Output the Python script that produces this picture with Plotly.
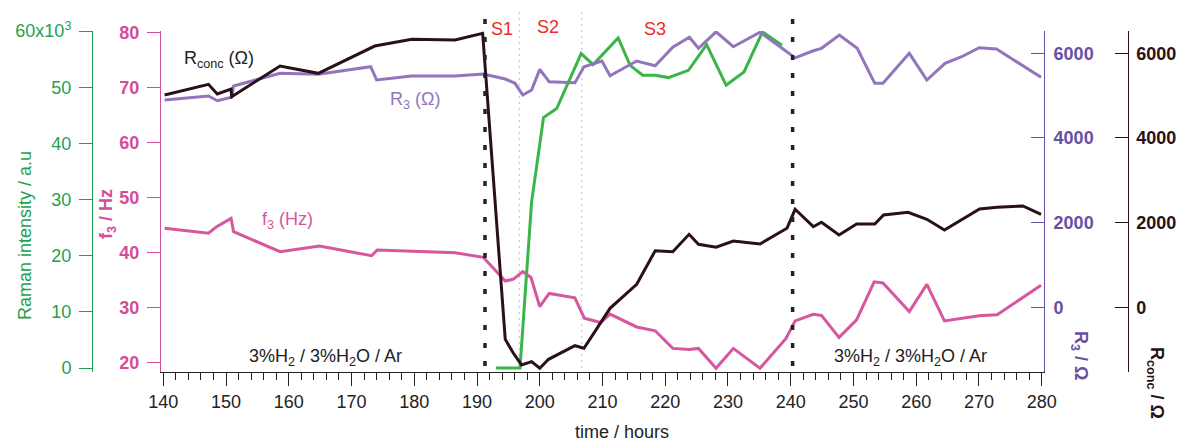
import plotly.graph_objects as go

# ---------------- data ----------------
time_rconc = [140.2, 147.2, 148.6, 150.8, 150.9, 158.6, 164.7, 173.7, 179.6, 186.5, 190.9,
              194.5, 195.8, 197.1, 198.7, 200.0, 201.4, 205.6, 207.05, 211.2, 215.45, 218.4,
              221.2, 223.8, 225.3, 228.1, 230.85, 235.1, 239.4, 240.7, 243.6, 244.9, 247.7,
              250.5, 253.4, 254.8, 258.7, 261.7, 264.5, 267.25, 270.1, 272.9, 277.0, 279.9]
rconc = [5012, 5265, 5036, 5154, 4972, 5697, 5525, 6169, 6327, 6311, 6469,
         -756, -1086, -1362, -1284, -1440, -1228, -907, -968, -24, 543, 1336,
         1313, 1723, 1487, 1417, 1565, 1494, 1865, 2314, 1903, 2007, 1707,
         1967, 1967, 2179, 2243, 2078, 1825, 2078, 2321, 2361, 2392, 2196]

time_r3 = [140.2, 147.2, 148.6, 150.9, 151.2, 158.6, 164.7, 173.05, 174.0, 179.6, 186.5,
           191.0, 194.5, 196.05, 197.3, 198.7, 200.0, 201.5, 205.6, 207.05, 209.9, 211.2,
           215.45, 218.4, 221.2, 223.85, 225.3, 228.1, 230.85, 235.1, 238.3, 240.7, 243.6,
           244.9, 247.75, 250.6, 253.4, 254.7, 258.9, 261.7, 264.6, 267.25, 270.05, 272.8, 279.9]
r3 = [4894, 4989, 4878, 4958, 5225, 5525, 5501, 5681, 5367, 5461, 5461,
      5508, 5390, 5289, 5012, 5130, 5619, 5327, 5303, 5681, 5815, 5468,
      5815, 5704, 6139, 6375, 6115, 6505, 6153, 6495, 6153, 5890, 6058,
      6115, 6429, 6115, 5289, 5289, 5997, 5367, 5761, 5917, 6130, 6099, 5430]

time_f3 = [140.2, 147.2, 148.5, 150.8, 151.2, 158.6, 164.9, 173.2, 174.1, 186.5, 191.0,
           194.5, 195.8, 197.3, 198.6, 200.0, 201.5, 205.6, 207.1, 209.7, 211.2, 215.45,
           218.4, 221.2, 223.8, 225.3, 228.1, 230.85, 235.1, 239.25, 240.7, 243.6, 244.9,
           247.7, 250.5, 253.3, 254.7, 258.9, 261.7, 264.5, 270.05, 272.9, 279.9]
f3 = [44.44, 43.53, 44.73, 46.25, 43.82, 40.18, 41.2, 39.45, 40.49, 40.0, 39.16,
      34.85, 35.2, 36.55, 35.5, 30.2, 32.6, 31.8, 28.1, 27.3, 28.85, 26.5,
      25.8, 22.6, 22.4, 22.6, 19.0, 22.6, 19.0, 24.4, 27.6, 28.8, 28.6,
      24.6, 27.8, 34.7, 34.5, 29.3, 34.25, 27.6, 28.55, 28.7, 34.1]

time_raman = [193.0, 196.85, 198.7, 200.6, 202.7, 206.6, 208.5, 212.5, 214.4, 216.4,
              218.4, 220.5, 223.7, 226.6, 229.7, 232.55, 235.5, 238.6]
raman = [0, 0, 29585, 44600, 46200, 55985, 54030, 58760, 53900, 52125,
         52125, 51716, 53014, 57587, 50346, 52712, 59850, 57462]

x_ticks = [140, 150, 160, 170, 180, 190, 200, 210, 220, 230, 240, 250, 260, 270, 280]
f3_ticks = [20, 30, 40, 50, 60, 70, 80]
raman_ticks = [0, 10000, 20000, 30000, 40000, 50000, 60000]
raman_ticktext = ["0", "10", "20", "30", "40", "50", "60x10<sup>3</sup>"]
r_ticks = [0, 2000, 4000, 6000]

gas_boundaries = [191.27, 240.3]      # black dashed lines
stage_boundaries = [196.74, 206.69]   # light dotted lines
stage_labels = ["S1", "S2", "S3"]
gas_label = "3%H<sub>2</sub> / 3%H<sub>2</sub>O / Ar"

# ---------------- style ----------------
GREEN_LINE = "#3bb54a"
GREEN_AX = "#1f9f4f"
PINK_LINE = "#d6569f"
PINK_AX = "#d44d98"
PURPLE_LINE = "#9275bd"
PURPLE_AX = "#6650a5"
BLACK = "#2a1018"
RED = "#ec2a26"
AXC = "#222222"
FONT = "Liberation Sans, Arial, sans-serif"

OFF = 8                      # page body margin of the browser
W, H = 1191 - OFF, 444 - OFF
# target screen geometry of the plot area
SX0, SX1, SY0, SY1 = 161, 1044, 31, 372
ML, MR = 32, 22
MT, MB = SY0 - OFF, H - (SY1 - OFF)
PW = W - ML - MR
PH = H - MT - MB


def xp(px):
    return (px - OFF - ML) / PW


def yp(py):
    return (H - MB - (py - OFF)) / PH


XD = [xp(SX0), xp(SX1)]

fig = go.Figure()
fig.add_trace(go.Scatter(x=time_f3, y=f3, mode="lines", yaxis="y",
                         line=dict(color=PINK_LINE, width=3)))
fig.add_trace(go.Scatter(x=time_r3, y=r3, mode="lines", yaxis="y3",
                         line=dict(color=PURPLE_LINE, width=3)))
fig.add_trace(go.Scatter(x=time_rconc, y=rconc, mode="lines", yaxis="y4",
                         line=dict(color=BLACK, width=3)))
fig.add_trace(go.Scatter(x=time_raman, y=raman, mode="lines", yaxis="y2",
                         line=dict(color=GREEN_LINE, width=3)))

fig.update_layout(
    width=W, height=H,
    margin=dict(l=ML, r=MR, t=MT, b=MB),
    plot_bgcolor="white", paper_bgcolor="white",
    showlegend=False,
    font=dict(family=FONT, size=18, color=AXC),
    xaxis=dict(domain=XD, range=[139.63, 280.37], tickvals=x_ticks,
               ticks="outside", ticklen=13, tickwidth=1, tickcolor=AXC,
               showline=True, linecolor=AXC, linewidth=1,
               showgrid=False, zeroline=False,
               minor=dict(dtick=2, tick0=140, ticks="outside", ticklen=7,
                          tickcolor=AXC, tickwidth=1, showgrid=False),
               tickfont=dict(size=18, color=AXC, family=FONT),
               automargin=False),
    yaxis=dict(range=[18.31, 80.31], anchor="x", side="left", tickvals=f3_ticks,
               ticks="outside", ticklen=13, tickcolor=PINK_AX, tickwidth=1,
               showline=True, linecolor=PINK_AX, linewidth=1,
               showgrid=False, zeroline=False, ticklabelstandoff=4,
               tickfont=dict(size=18, color=PINK_AX, family=FONT, weight="bold"),
               automargin=False),
    yaxis2=dict(range=[-712, 60010], overlaying="y", anchor="free", position=xp(92),
                side="left", tickvals=raman_ticks, ticktext=raman_ticktext,
                ticks="outside", ticklen=13, tickcolor=GREEN_AX, tickwidth=1,
                showline=True, linecolor=GREEN_AX, linewidth=1,
                showgrid=False, zeroline=False, ticklabelstandoff=4,
                tickfont=dict(size=18, color=GREEN_AX, family=FONT),
                automargin=False),
    yaxis3=dict(range=[-1528, 6524], overlaying="y", anchor="x", side="right",
                tickvals=r_ticks, ticks="inside", ticklen=13, tickcolor=PURPLE_AX,
                tickwidth=1, showline=True, linecolor=PURPLE_AX, linewidth=1,
                showgrid=False, zeroline=False, ticklabelstandoff=5,
                tickfont=dict(size=18, color=PURPLE_AX, family=FONT, weight="bold"),
                automargin=False),
    yaxis4=dict(range=[-1528, 6524], overlaying="y", anchor="free", position=xp(1127.7),
                side="right", tickvals=r_ticks, ticks="inside", ticklen=13,
                tickcolor=BLACK, tickwidth=1, showline=True, linecolor=BLACK, linewidth=1,
                showgrid=False, zeroline=False, ticklabelstandoff=4,
                tickfont=dict(size=18, color=BLACK, family=FONT, weight="bold"),
                automargin=False),
)

shapes = []
for xb in gas_boundaries:
    shapes.append(dict(type="line", xref="x", yref="paper", x0=xb, x1=xb,
                       y0=yp(366), y1=yp(9), layer="above",
                       line=dict(color=AXC, width=3.5, dash="5px,13px")))
for xb in stage_boundaries:
    shapes.append(dict(type="line", xref="x", yref="paper", x0=xb, x1=xb,
                       y0=yp(368), y1=yp(9), layer="below",
                       line=dict(color="#b8bee0", width=1, dash="2px,4px")))
fig.update_layout(shapes=shapes)

ann = []


def add_text(text, px, py, color, size=18, angle=0):
    ann.append(dict(text=text, x=xp(px), y=yp(py), xref="paper", yref="paper",
                    showarrow=False, textangle=angle, xanchor="center", yanchor="middle",
                    font=dict(family=FONT, size=size, color=color)))


# axis titles
add_text("Raman intensity / a.u", 25, 236, GREEN_AX, angle=-90)
add_text("<b>f<sub>3</sub> / Hz</b>", 107, 214, PINK_AX, angle=-90)
add_text("<b>R<sub>3</sub> / Ω</b>", 1080, 355, PURPLE_AX, angle=90)
add_text("<b>R<sub>conc</sub> / Ω</b>", 1156, 383, BLACK, angle=90)
add_text("time / hours", 622, 432, AXC)

# in-plot labels
add_text("R<sub>conc</sub> (Ω)", 219, 59, AXC)
add_text("R<sub>3</sub> (Ω)", 415, 100, PURPLE_LINE)
add_text("f<sub>3</sub> (Hz)", 287, 221, PINK_LINE)
add_text(gas_label, 325, 357, AXC)
add_text(gas_label, 910, 357, AXC)
for lab, px, py in zip(stage_labels, [502, 548, 655], [29, 27, 29]):
    add_text(lab, px, py, RED)

fig.update_layout(annotations=ann)

fig.write_html("out.html")
